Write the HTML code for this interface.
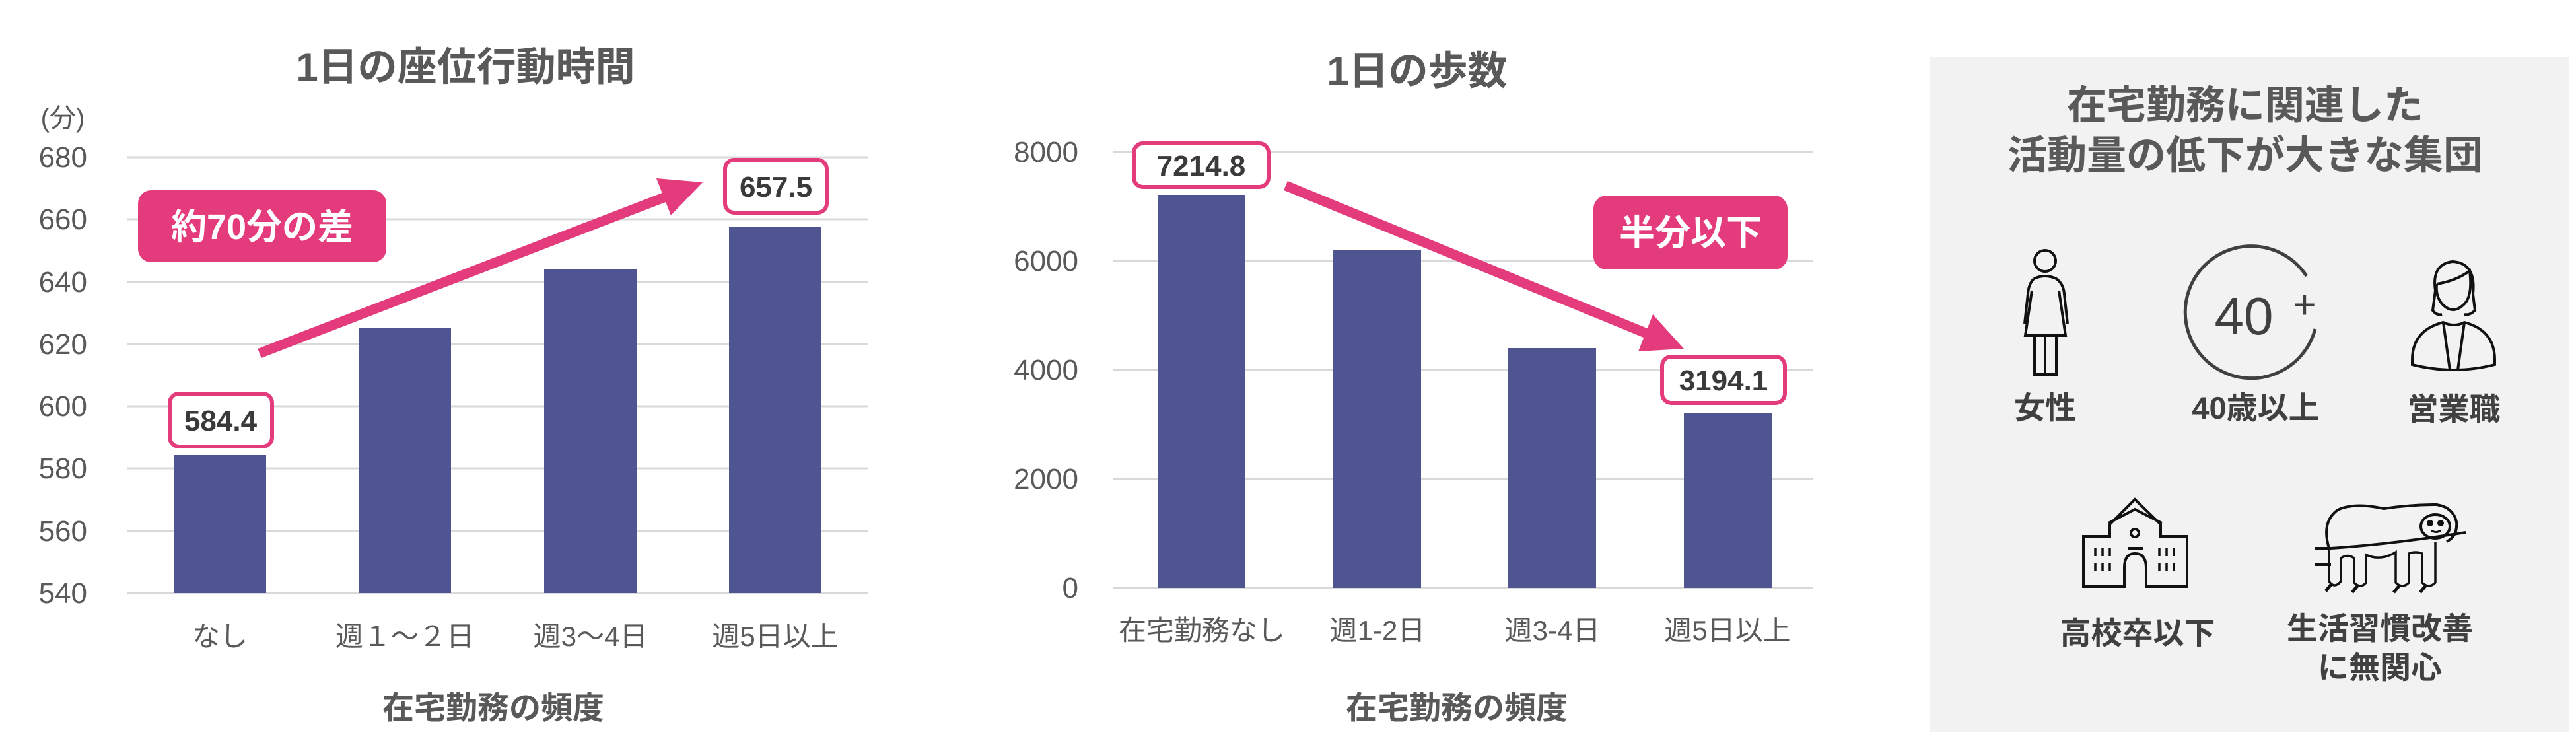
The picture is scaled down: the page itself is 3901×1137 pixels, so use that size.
<!DOCTYPE html>
<html><head><meta charset="utf-8"><style>
html,body{margin:0;padding:0;background:#fff;}
svg{display:block;}
text{font-family:"Liberation Sans","Noto Sans CJK JP",sans-serif;}
</style></head><body>
<svg width="3901" height="1137" viewBox="0 0 3901 1137" xmlns="http://www.w3.org/2000/svg">
<rect width="3901" height="1137" fill="#fff"/>
<!-- Chart 1 -->
<text x="705" y="122" font-size="60" font-weight="bold" fill="#595959" text-anchor="middle">1日の座位行動時間</text>
<text x="95" y="192" font-size="40" fill="#595959" text-anchor="middle">(分)</text>
<g stroke="#d9d9d9" stroke-width="3">
<line x1="193" y1="238" x2="1315" y2="238"/><line x1="193" y1="332" x2="1315" y2="332"/>
<line x1="193" y1="427" x2="1315" y2="427"/><line x1="193" y1="521" x2="1315" y2="521"/>
<line x1="193" y1="615" x2="1315" y2="615"/><line x1="193" y1="709" x2="1315" y2="709"/>
<line x1="193" y1="804" x2="1315" y2="804"/><line x1="193" y1="898" x2="1315" y2="898"/>
</g>
<g font-size="44" fill="#595959" text-anchor="end">
<text x="132" y="253">680</text><text x="132" y="347">660</text><text x="132" y="442">640</text>
<text x="132" y="536">620</text><text x="132" y="630">600</text><text x="132" y="724">580</text>
<text x="132" y="819">560</text><text x="132" y="913">540</text>
</g>
<g fill="#4f5591">
<rect x="263" y="689" width="140" height="209"/><rect x="543" y="497" width="140" height="401"/>
<rect x="824" y="408" width="140" height="490"/><rect x="1104" y="344" width="140" height="554"/>
</g>
<g font-size="42" fill="#595959" text-anchor="middle">
<text x="333" y="978">なし</text><text x="613" y="978">週１～２日</text>
<text x="894" y="978">週3～4日</text><text x="1174" y="978">週5日以上</text>
</g>
<text x="747" y="1088" font-size="48" font-weight="bold" fill="#595959" text-anchor="middle">在宅勤務の頻度</text>
<rect x="257" y="596" width="155" height="80" rx="14" fill="#fff" stroke="#e33b7b" stroke-width="6"/>
<text x="334" y="652" font-size="44" font-weight="bold" fill="#3a3a3a" text-anchor="middle">584.4</text>
<rect x="1098" y="242" width="154" height="80" rx="14" fill="#fff" stroke="#e33b7b" stroke-width="6"/>
<text x="1175" y="298" font-size="44" font-weight="bold" fill="#3a3a3a" text-anchor="middle">657.5</text>
<rect x="209" y="288" width="376" height="109" rx="20" fill="#e33b7b"/>
<text x="397" y="362" font-size="54" font-weight="bold" fill="#fff" text-anchor="middle">約70分の差</text>
<line x1="393" y1="535" x2="1008" y2="298" stroke="#e33b7b" stroke-width="15"/>
<polygon points="1064,276 1016,326 994,270" fill="#e33b7b"/>
<!-- Chart 2 -->
<text x="2146" y="128" font-size="60" font-weight="bold" fill="#595959" text-anchor="middle">1日の歩数</text>
<g stroke="#d9d9d9" stroke-width="3">
<line x1="1686" y1="230" x2="2746" y2="230"/><line x1="1686" y1="395" x2="2746" y2="395"/>
<line x1="1686" y1="560" x2="2746" y2="560"/><line x1="1686" y1="725" x2="2746" y2="725"/>
<line x1="1686" y1="890" x2="2746" y2="890"/>
</g>
<g font-size="44" fill="#595959" text-anchor="end">
<text x="1633" y="245">8000</text><text x="1633" y="410">6000</text><text x="1633" y="575">4000</text>
<text x="1633" y="740">2000</text><text x="1633" y="905">0</text>
</g>
<g fill="#4f5591">
<rect x="1753" y="295" width="133" height="595"/><rect x="2019" y="378" width="133" height="512"/>
<rect x="2284" y="527" width="133" height="363"/><rect x="2550" y="626" width="133" height="264"/>
</g>
<g font-size="42" fill="#595959" text-anchor="middle">
<text x="1820" y="969">在宅勤務なし</text><text x="2086" y="969">週1-2日</text>
<text x="2351" y="969">週3-4日</text><text x="2616" y="969">週5日以上</text>
</g>
<text x="2206" y="1088" font-size="48" font-weight="bold" fill="#595959" text-anchor="middle">在宅勤務の頻度</text>
<rect x="1717" y="217" width="204" height="66" rx="14" fill="#fff" stroke="#e33b7b" stroke-width="6"/>
<text x="1819" y="266" font-size="44" font-weight="bold" fill="#3a3a3a" text-anchor="middle">7214.8</text>
<rect x="2517" y="540" width="186" height="70" rx="14" fill="#fff" stroke="#e33b7b" stroke-width="6"/>
<text x="2610" y="591" font-size="44" font-weight="bold" fill="#3a3a3a" text-anchor="middle">3194.1</text>
<rect x="2413" y="296" width="294" height="112" rx="20" fill="#e33b7b"/>
<text x="2560" y="371" font-size="54" font-weight="bold" fill="#fff" text-anchor="middle">半分以下</text>
<line x1="1947" y1="281" x2="2494" y2="505" stroke="#e33b7b" stroke-width="15"/>
<polygon points="2550,528 2481,532 2503,476" fill="#e33b7b"/>
<!-- Panel -->
<rect x="2922" y="87" width="969" height="1021" fill="#f2f2f2"/>
<g font-size="60" font-weight="bold" fill="#595959" text-anchor="middle">
<text x="3400" y="180">在宅勤務に関連した</text>
<text x="3400" y="256">活動量の低下が大きな集団</text>
</g>
<g fill="none" stroke="#111" stroke-width="4">
<!-- female -->
<circle cx="3097" cy="395" r="16"/>
<path d="M3080,422 Q3097,414 3114,422 Q3125,430 3126,445 L3131,490 M3066,490 L3071,445 Q3072,430 3080,422"/>
<path d="M3077,440 L3067,508 L3128,508 L3118,440"/>
<path d="M3081,508 L3081,567 L3114,567 L3114,508 M3097,508 L3097,567"/>
<!-- 40+ circle -->
<path d="M3493,418 A100,100 0 1 0 3506,498" stroke="#404040" stroke-width="5"/>
<!-- business woman -->
<path d="M3688,440 Q3682,400 3714,396 Q3750,398 3745,445 L3748,470 Q3740,478 3732,476 M3688,440 L3684,470 Q3690,478 3698,476"/>
<path d="M3690,430 Q3720,425 3740,410 Q3745,450 3730,462 Q3715,476 3700,462 Q3688,450 3690,430"/>
<path d="M3653,545 Q3653,500 3700,488 Q3716,496 3732,488 Q3778,500 3778,545 L3778,552 Q3716,568 3653,552 Z"/>
<path d="M3700,488 L3710,560 M3732,488 L3722,560"/>
<!-- school -->
<path d="M3155,812 L3195,812 L3195,794 L3233,756 L3272,794 L3272,812 L3312,812 L3312,888 L3250,888 L3250,860 Q3250,838 3233,838 Q3217,838 3217,860 L3217,888 L3155,888 Z"/>
<path d="M3193,792 L3233,771 L3274,792"/>
<circle cx="3233" cy="807" r="6"/>
<path d="M3222,830 L3245,830"/>
<path d="M3173,830 v12 M3184,830 v12 M3195,830 v12 M3173,853 v12 M3184,853 v12 M3195,853 v12 M3270,830 v12 M3281,830 v12 M3292,830 v12 M3270,853 v12 M3281,853 v12 M3292,853 v12" stroke-width="3.5"/>
<!-- sloth -->
<path d="M3527,830 Q3515,790 3540,772 Q3565,760 3610,770 Q3650,764 3690,764 Q3715,768 3720,790 Q3722,812 3705,820"/>
<ellipse cx="3688" cy="797" rx="22" ry="18"/>
<circle cx="3680" cy="792" r="3" fill="#111"/><circle cx="3696" cy="792" r="3" fill="#111"/>
<path d="M3682,803 Q3689,808 3696,803" stroke-width="3"/>
<path d="M3505,830 L3530,830 M3505,855 L3530,855 M3530,830 Q3620,824 3734,806"/>
<path d="M3527,830 L3527,880 Q3535,892 3545,880 L3545,845 Q3555,838 3565,845 L3565,882 Q3575,892 3583,882 L3583,840 Q3605,850 3628,836 L3628,882 Q3638,892 3648,882 L3648,838 Q3658,834 3668,838 L3668,882 Q3678,892 3688,882 L3688,820" stroke-width="3.5"/>
<path d="M3530,885 l-8,10 M3570,887 l-8,10 M3633,887 l-8,10 M3673,887 l-8,10" stroke-width="5"/>
</g>
<text x="3398" y="506" font-size="80" fill="#404040" text-anchor="middle">40</text>
<text x="3490" y="482" font-size="60" fill="#404040" text-anchor="middle">+</text>
<g font-size="47" font-weight="bold" fill="#404040" text-anchor="middle">
<text x="3097" y="634">女性</text>
<text x="3416" y="634">40歳以上</text>
<text x="3716" y="636">営業職</text>
<text x="3237" y="975">高校卒以下</text>
<text x="3604" y="968">生活習慣改善</text>
<text x="3604" y="1027">に無関心</text>
</g>
</svg>
</body></html>
